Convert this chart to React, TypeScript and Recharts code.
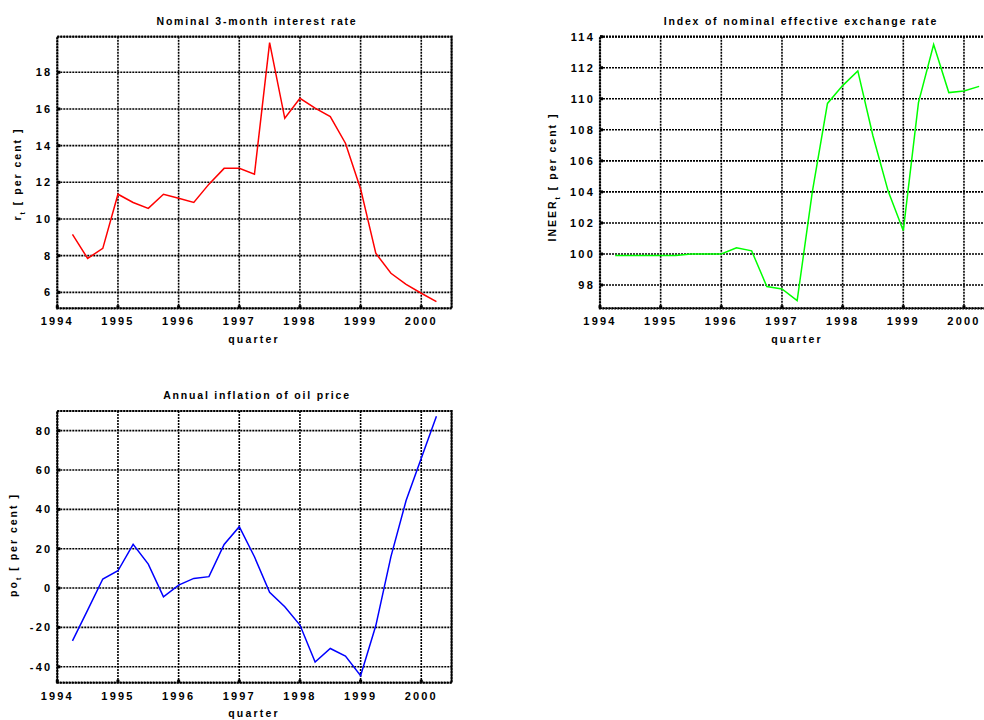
import React from "react";
import { LineChart, Line, XAxis, YAxis, CartesianGrid, ReferenceArea } from "recharts";

// quarterly observations, 1994Q2 .. 2000Q2
const quarters = [
  1994.25, 1994.5, 1994.75, 1995, 1995.25, 1995.5, 1995.75, 1996, 1996.25, 1996.5, 1996.75, 1997, 1997.25,
  1997.5, 1997.75, 1998, 1998.25, 1998.5, 1998.75, 1999, 1999.25, 1999.5, 1999.75, 2000, 2000.25,
];
const interestRate = [
  9.16, 7.85, 8.4, 11.35, 10.9, 10.58, 11.35, 11.13, 10.9, 11.9, 12.76, 12.76, 12.44,
  19.62, 15.49, 16.58, 16.04, 15.58, 14.13, 11.64, 8.13, 7.04, 6.44, 5.95, 5.49,
];
const ineer = [
  99.9, 99.9, 99.9, 99.9, 99.9, 100.0, 100.0, 100.0, 100.4, 100.2, 97.9, 97.75, 97.0,
  104.0, 109.7, 110.85, 111.8, 107.6, 104.05, 101.5, 109.75, 113.5, 110.4, 110.5, 110.8,
];
const oilInflation = [
  -26.8, -11.2, 4.6, 8.8, 22.2, 12.2, -4.4, 1.5, 4.9, 5.8, 22.2, 31.2, 15.9,
  -2.2, -9.5, -18.8, -37.6, -30.7, -34.6, -44.5, -19.2, 16, 44.5, 66, 87.3,
];
const yearTicks = [1994, 1995, 1996, 1997, 1998, 1999, 2000];
const rateTicks = [6, 8, 10, 12, 14, 16, 18];
const ineerTicks = [98, 100, 102, 104, 106, 108, 110, 112, 114];
const oilTicks = [-40, -20, 0, 20, 40, 60, 80];

const FONT = "'Liberation Sans', Arial, Helvetica, sans-serif";
const X_DOMAIN: [number, number] = [1994, 2000.5];

function AxisTitle(props: any) {
  const { cx, cy, main, sub } = props;
  return (
    <text
      transform={`translate(${cx},${cy}) rotate(-90)`}
      textAnchor="middle"
      fill="#000"
      fontSize={10.5}
      fontWeight="bold"
      fontFamily={FONT}
      style={{ letterSpacing: "2px" }}
    >
      {main}
      <tspan dy={4} fontSize={7}>{sub}</tspan>
      <tspan dy={-4}> [ per cent ]</tspan>
    </text>
  );
}

function Panel(props: any) {
  const { left, top, width, height, plot, values, color, domain, ticks, title, titleX, titleY, quarterX, quarterY, ylabel } = props;
  const data = quarters.map((q, i) => ({ q, v: values[i] }));
  const yW = 40;
  const xH = 30;
  const margin = {
    top: plot.top - top,
    left: plot.left - left - yW,
    right: left + width - plot.right,
    bottom: top + height - plot.bottom - xH,
  };
  const tickStyle = { fill: "#000", fontSize: 11, fontWeight: "bold", fontFamily: FONT };
  const txt: React.CSSProperties = {
    position: "absolute",
    transform: "translate(-50%, -50%)",
    whiteSpace: "nowrap",
    fontFamily: FONT,
    fontWeight: "bold",
    lineHeight: 1,
    color: "#000",
  };
  return (
    <>
      <div style={{ position: "absolute", left, top }}>
        <LineChart width={width} height={height} data={data} margin={margin}>
          <CartesianGrid stroke="#000" strokeDasharray="2 1" strokeWidth={1.6} />
          <XAxis
            dataKey="q"
            type="number"
            domain={X_DOMAIN}
            ticks={yearTicks}
            allowDataOverflow
            axisLine={false}
            tickLine={{ stroke: "#000", strokeWidth: 3 }}
            tickSize={-3}
            tickMargin={12}
            height={xH}
            tick={tickStyle}
          />
          <YAxis
            type="number"
            domain={domain}
            ticks={ticks}
            allowDataOverflow
            axisLine={false}
            tickLine={{ stroke: "#000", strokeWidth: 3 }}
            tickSize={-3}
            tickMargin={8}
            width={yW}
            tick={tickStyle}
            label={<AxisTitle cx={ylabel.x - left} cy={ylabel.y - top} main={ylabel.main} sub="t" />}
          />
          <ReferenceArea
            x1={X_DOMAIN[0]}
            x2={X_DOMAIN[1]}
            y1={domain[0]}
            y2={domain[1]}
            fill="none"
            stroke="#000"
            strokeWidth={2.2}
            strokeDasharray="2 1"
          />
          <Line type="linear" dataKey="v" stroke={color} strokeWidth={1.5} dot={false} isAnimationActive={false} />
        </LineChart>
      </div>
      <div style={{ ...txt, left: titleX, top: titleY, fontSize: 10.5, letterSpacing: "1.8px" }}>{title}</div>
      <div style={{ ...txt, left: quarterX, top: quarterY, fontSize: 10.5, letterSpacing: "2.2px" }}>quarter</div>
    </>
  );
}

export default function App() {
  return (
    <div style={{ position: "absolute", left: 0, top: 0, width: 984, height: 720, overflow: "hidden", background: "#fff" }}>
      <style>{`.recharts-cartesian-axis-tick-value { letter-spacing: 2.2px; }`}</style>
      <Panel
        left={0}
        top={0}
        width={470}
        height={350}
        plot={{ left: 57.3, top: 36.7, right: 451.6, bottom: 308.3 }}
        values={interestRate}
        color="#ff0000"
        domain={[5.13, 19.94]}
        ticks={rateTicks}
        title="Nominal 3-month interest rate"
        titleX={257}
        titleY={21}
        quarterX={254}
        quarterY={339}
        ylabel={{ x: 21, y: 174, main: "r" }}
      />
      <Panel
        left={500}
        top={0}
        width={500}
        height={350}
        plot={{ left: 600, top: 36.7, right: 994.3, bottom: 308.3 }}
        values={ineer}
        color="#00ff00"
        domain={[96.5, 114]}
        ticks={ineerTicks}
        title="Index of nominal effective exchange rate"
        titleX={801}
        titleY={21}
        quarterX={797}
        quarterY={339}
        ylabel={{ x: 556, y: 177, main: "INEER" }}
      />
      <Panel
        left={0}
        top={375}
        width={470}
        height={345}
        plot={{ left: 57.3, top: 411, right: 451.6, bottom: 682.7 }}
        values={oilInflation}
        color="#0000ff"
        domain={[-48.1, 90]}
        ticks={oilTicks}
        title="Annual inflation of oil price"
        titleX={257}
        titleY={395}
        quarterX={254}
        quarterY={713}
        ylabel={{ x: 17, y: 545, main: "po" }}
      />
    </div>
  );
}
